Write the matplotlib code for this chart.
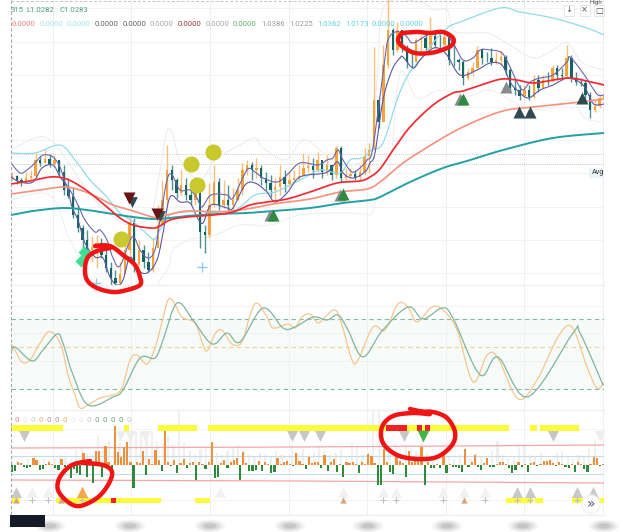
import numpy as np
import matplotlib
matplotlib.use("Agg")
import matplotlib.pyplot as plt
from matplotlib.patches import Rectangle, Circle, Ellipse

plt.rcParams['font.family'] = ['Roboto', 'DejaVu Sans']

# ---- candles: levels on the inverted chart scale, one entry per bar ----
closes = [176,180,183,178,176,160,163,159,164,160,172,190,196,215,228,240,250,247,243,255,
          268,278,283,274,250,222,265,250,262,270,248,225,200,170,180,193,185,195,200,180,
          232,235,205,182,205,200,205,200,190,170,165,170,168,178,183,190,187,177,184,180,
          178,176,168,166,170,160,172,165,175,148,178,176,174,177,172,156,150,100,122,65,
          30,50,30,48,62,62,40,38,48,36,45,45,37,60,60,62,78,72,68,50,
          58,58,62,60,57,70,88,90,96,90,97,80,88,80,80,68,75,76,58,78,
          82,83,95,110,106,98,96]
highs = [172,175,178,172,170,153,156,150,154,155,160,165,178,188,205,225,230,236,235,238,
         250,262,270,262,245,215,218,240,245,252,238,205,180,145,165,178,170,178,185,178,
         205,225,183,165,178,180,185,188,178,163,160,162,158,165,172,175,178,165,170,172,
         170,165,153,155,158,152,160,155,165,146,146,168,168,170,165,148,143,47,98,45,
         -5,28,22,30,45,50,38,35,32,17,30,30,32,35,45,58,60,68,62,46,
         48,52,48,52,50,55,68,78,85,85,85,75,75,75,72,65,65,68,45,55,
         72,78,80,92,100,95,92]
lows = [180,184,186,182,180,178,166,163,167,165,176,195,198,218,232,250,255,262,268,258,
        272,285,287,287,262,255,272,262,268,272,272,232,225,205,190,198,195,200,205,205,
        248,253,238,207,210,208,212,210,200,195,175,180,178,185,190,197,202,195,192,188,
        182,180,175,172,178,172,178,175,180,178,182,180,178,180,180,175,173,150,128,122,
        68,55,52,52,68,68,65,55,52,50,48,50,50,65,66,70,85,80,76,68,
        64,62,65,64,65,75,92,95,100,98,100,98,92,88,85,82,80,80,78,82,
        85,86,100,118,112,108,102]
first_open = 178
bar_start, bar_step = 12.0, 4.7

# ---- overlays on the price pane: (time, level) ----
cyan_t = [11,35,60,75,90,105,120,135,150,155,160,170,185,210,235,255,275,300,320,340,350,362,372,383,397,408,420,433,447,460,500,520,553,587,604]
cyan_y = [153,153,145,160,180,195,213,223,237,239,230,215,212,211,210,195,192,180,170,173,160,158,150,143,100,75,60,43,28,22,8,12,18,28,35]
fast_t = [11,20,27,35,43,53,60,65,70,77,85,95,100,107,113,120,132,140,148,155,160,167,172,180,190,197,202,211,227,233,247,255,263,277,287,300,318,327,333,338,343,352,360,367,373,385,388,393,400,407,413,427,435,443,453,463,473,480,490,502,510,517,523,530,540,553,567,570,583,592,598,604]
fast_y = [163,173,170,163,155,157,167,182,190,203,220,232,230,240,258,266,237,250,258,250,220,180,175,190,190,198,207,195,195,198,170,172,178,182,175,163,165,160,158,150,160,172,168,160,147,57,40,33,32,37,43,35,32,32,43,60,58,50,50,53,67,82,90,82,78,75,62,57,73,87,95,95]
slow_t = [11,20,33,42,53,60,67,72,78,85,95,103,110,117,123,130,138,147,157,163,170,180,190,197,203,211,227,233,245,255,267,275,287,300,325,332,338,343,353,365,370,375,383,392,400,403,413,420,430,438,447,460,477,490,502,510,517,528,540,553,568,583,592,597,604]
slow_y = [177,182,182,168,165,177,187,207,220,243,257,258,277,285,280,257,270,273,260,233,197,202,203,217,223,205,208,208,185,183,192,202,193,177,173,167,162,173,178,172,163,153,100,70,58,57,68,60,50,48,55,75,70,63,65,82,90,98,90,85,78,85,102,105,104]
red_t = [11,30,50,63,75,90,107,120,133,150,158,170,187,213,233,250,267,287,310,337,360,370,380,393,410,433,453,463,487,502,517,533,553,570,587,604]
red_y = [184,181,177,178,183,193,207,218,225,228,227,220,217,215,212,205,202,199,192,183,181,177,169,150,127,105,93,91,83,79,80,83,80,78,81,85]
salmon_t = [11,33,63,80,97,113,130,157,167,187,213,233,253,273,310,340,367,380,403,423,453,483,507,533,553,580,604]
salmon_y = [194,191,187,190,197,205,210,218,215,211,212,211,208,204,199,192,189,182,163,150,132,118,110,107,105,102,99]
teal_t = [11,33,63,87,113,133,157,187,217,247,273,310,343,370,380,410,443,467,503,553,604]
teal_y = [215,211,208,210,214,217,219,216,214,213,211,208,203,200,197,182,168,161,150,138,133]
env_up_t = [11,38,53,70,90,110,130,150,160,167,173,180,200,215,240,255,262,285,303,320,340,370,378,385,420,433,447,453,467,487,507,533,553,567,583,604]
env_up_y = [150,137,142,165,195,215,225,215,170,131,135,160,180,160,145,138,147,160,140,150,165,150,60,5,2,10,10,30,33,33,43,58,50,43,63,70]
env_lo_t = [11,50,70,100,140,167,173,190,215,240,270,300,340,365,372,380,390,400,417,440,465,490,520,545,570,585,604]
env_lo_y = [200,195,240,290,300,270,250,240,235,225,225,215,213,214,213,187,167,73,98,90,97,90,105,110,100,118,122]

# ---- signal markers on the price pane ----
dots_t, dots_y = [191,213,197,121], [164,152,185,239]
diamonds_t, diamonds_y = [84,81], [252,261]
plus_t, plus_y = [202,96], [267,283]
up_green_t, up_green_y = [273,343,463], [215,194,99]
up_gray_t, up_gray_y = [270,340,460,506], [215,195,99,87]
up_slate_t, up_slate_y = [519,530,582], [112,112,98]
down_red_t, down_red_y = [129,157], [198,214]
down_slate_t, down_slate_y = [132,160], [202,216]

# ---- oscillator pane ----
osc_fast_t = [11,15,22,30,40,48,55,62,68,75,80,88,100,113,122,130,137,147,155,163,168,173,182,195,202,207,215,222,232,242,250,257,267,273,288,295,302,310,318,325,335,342,352,358,373,385,398,408,417,432,443,457,473,487,498,518,537,558,572,587,597,604]
osc_fast_y = [344,350,362,360,343,332,335,348,375,395,408,405,398,395,388,360,355,364,348,318,300,301,317,323,342,351,334,330,344,342,315,303,317,328,324,328,317,314,323,317,310,325,360,360,327,330,304,307,322,307,310,330,382,355,358,399,380,337,327,367,388,383]
osc_slow_t = [11,15,32,43,57,63,72,88,113,123,140,155,163,177,193,212,227,240,263,283,295,313,327,338,348,363,382,408,423,442,453,480,498,528,573,580,603]
osc_slow_y = [354,347,361,350,334,343,372,405,397,390,358,358,340,303,320,344,333,342,308,328,327,317,320,315,330,357,331,307,319,308,318,375,357,397,333,333,385]
osc_levels = [319.3, 347.3, 389.3]

# ---- delta histogram: signed height per bar ----
delta = [-7,-6,3,2,-2,-3,-2,7,5,-5,-4,1,3,1,-3,-5,6,-2,-3,-13,-4,-8,-10,12,-12,2,-18,14,14,-12,
         19,3,-10,39,13,8,18,23,3,-23,3,2,14,-10,6,1,15,5,-6,34,3,-1,5,-8,2,6,-3,2,3,-15,
         3,1,-4,3,23,-13,-12,2,5,-3,3,5,7,-15,13,2,-6,-6,-5,4,-6,3,1,-8,-7,7,1,3,4,1,
         -1,12,4,1,-4,8,2,3,3,-3,10,-6,3,6,-7,1,-12,3,2,3,1,-8,3,1,11,9,2,-20,-20,16,
         3,-7,-9,10,4,2,-12,14,3,5,5,18,-20,3,-3,-3,1,-3,10,-8,1,-2,-2,-3,-7,16,-2,3,
         10,-2,-5,2,7,-2,-2,1,3,3,1,-3,-8,-5,3,-2,1,-7,2,3,-1,1,4,4,5,2,-1,3,1,-2,
         -3,1,-7,3,1,-4,-7,1,8,7,-1,1,5]
delta_start, delta_step = 11.5, 3.13
volume = [4,5,3,6,4,3,6,5,7,10,8,6,16,19,12,10,30,14,25,16,22,12,27,33,34,27,33,24,22,30,
          20,55,22,14,10,16,18,14,12,10,14,18,20,14,10,8,12,10,8,14,10,6,20,12,16,8,14,18,
          14,10,12,16,6,22,18,10,14,55,55,20,14,22,12,18,16,14,27,12,8,10,14,8,6,10,8,6,
          12,8,6,14,24,10,6,8,18,20,10,8,12,6,6,12,14,8,6,10,8,16,24]
volume_step = 5.4

# ---- signal strips and markers on the lower pane ----
top_strip = [(10,63),(124,129),(158,197),(208,509),(530,537),(540,579)]
top_alert = [(386,407),(417,422),(425,430)]
low_strip = [(12,20),(56,111),(116,161),(195,210),(506,533),(535,543),(572,585),(597,605)]
low_alert = [(111,116)]
down_gray_t = [24,292,304,320,404,553]
down_faint_t = [120,130,145,600]
down_green_t = [423]
up_dark_t = [16,517,530,577,593]
up_faint_t = [32,48,220,343,383,396,443,464,485]
up_orange_t = [82]
small_orange_t = [16,61,343,464]
small_plus_t = [32,48,82,383,396,443,485,517,530,577]

counter_t = [17,25,33,41,49,57,65,73,81,89,97,105,113,121,129]
counter_c = ['#f08080','#e8e8e8','#cccccc','#e9b06a','#b89090','#b89090','#e9b06a','#e8e8e8','#e4e4e4','#c4c4c4','#68a878','#68a878','#68a878','#68a878','#c4c4c4']

# ---- legend readouts ----
readout_vals = ['0.0000','0.0000','0.0000','0.0000','0.0000','0.0000','0.0000','0.0000','0.0000','1.0386','1.0225','1.0362','1.0173','0.0000','0.0000']
readout_x = [12,40,67,95,123,150,178,206,233,261,289,317,345,372,400]
readout_c = ['#f77d7d','#a2e3ee','#a2e3ee','#5e6068','#5e6068','#a4a6aa','#a33a3a','#a4a6aa','#5cb46a','#9a9ca0','#9a9ca0','#62cfe2','#62cfe2','#62cfe2','#62cfe2']

grid_y = [8,42,75,107,140,173,207,240,273]
grid_x = [53,131,210,289,367,446,524,603]

# ---- annotation strokes drawn by hand ----
scribble_a = [(95,246),(110,246),(123,255),(135,265),(140,277),(140,285),(127,290),(113,292),(97,288),(87,280),(85,268),(88,257),(97,251),(110,248)]
scribble_b = [(402,33),(417,32),(430,33),(443,32),(453,38),(452,45),(442,50),(430,53),(415,53),(403,47),(398,40),(402,33)]
scribble_c = [(410,409),(430,414),(413,413),(393,416),(382,427),(383,443),(397,455),(417,459),(437,457),(452,445),(455,432),(447,418),(433,412),(420,412)]
scribble_d = [(90,461),(72,465),(60,477),(58,490),(68,502),(80,506),(97,498),(108,485),(112,472),(103,465),(83,463)]


def pane(y0, y1, top, bottom):
    ax = fig.add_axes([11/625, 1-y1/532, (604-11)/625, (y1-y0)/532])
    ax.set_xlim(11, 604)
    ax.set_ylim(bottom, top)
    ax.axis('off')
    return ax


def spans(ax, items, y, h, color, z=4):
    for a, b in items:
        ax.add_patch(Rectangle((a, y-h/2), b-a, h, color=color, lw=0, zorder=z))


def smooth(points, per=8):
    # Catmull-Rom stroke through the given vertices
    p = np.array(points, float)
    p = np.vstack([p[0], p, p[-1]])
    out = []
    for i in range(1, len(p)-2):
        for t in np.linspace(0, 1, per, endpoint=False):
            out.append(0.5*((2*p[i]) + (p[i+1]-p[i-1])*t + (2*p[i-1]-5*p[i]+4*p[i+1]-p[i+2])*t*t
                            + (3*p[i]-p[i-1]-3*p[i+1]+p[i+2])*t**3))
    out.append(p[-2])
    return np.array(out)


def curve(ax, t, y, **kw):
    s = smooth(list(zip(t, y)))
    ax.plot(s[:, 0], s[:, 1], solid_joinstyle='round', **kw)


fig = plt.figure(figsize=(6.25, 5.32), dpi=100, facecolor='white')

# ---------------- price pane ----------------
ax = pane(0, 285, 0, 285)
for y in grid_y:
    ax.axhline(y, color='#f3f3f5', lw=0.7, zorder=0)
for x in grid_x:
    ax.axvline(x, color='#f0f0f3', lw=0.7, zorder=0)
for y in (154, 164):
    ax.axhline(y, color='#b8b8b8', lw=0.6, ls=(0, (1, 1.5)), zorder=1)

curve(ax, env_up_t, env_up_y, color='#ebebed', lw=0.7, zorder=1)
curve(ax, env_lo_t, env_lo_y, color='#eeeef0', lw=0.7, zorder=1)

times = bar_start + bar_step*np.arange(len(closes))
opens = np.r_[first_open, closes[:-1]]
closes_arr = np.array(closes)
rising = closes_arr < opens
up_col, down_col = '#f7a23c', '#14645f'
ax.vlines(times[rising], np.array(highs)[rising], np.array(lows)[rising], color='#f9bd78', lw=1.0, zorder=2)
ax.vlines(times[~rising], np.array(highs)[~rising], np.array(lows)[~rising], color='#4f918c', lw=1.0, zorder=2)
ax.bar(times[rising], (opens-closes_arr)[rising], bottom=closes_arr[rising], width=2.4, color=up_col, lw=0, zorder=3)
ax.bar(times[~rising], (closes_arr-opens)[~rising], bottom=opens[~rising], width=2.4, color=down_col, lw=0, zorder=3)

curve(ax, cyan_t, cyan_y, color='#8fdcea', lw=0.9, zorder=4)
curve(ax, fast_t, fast_y, color='#6a67ae', lw=0.8, zorder=4)
curve(ax, slow_t, slow_y, color='#5a58a6', lw=0.8, zorder=4)
curve(ax, teal_t, teal_y, color='#22a0a5', lw=1.4, zorder=5)
curve(ax, salmon_t, salmon_y, color='#fb9079', lw=1.2, zorder=5)
curve(ax, red_t, red_y, color='#f22b33', lw=1.25, zorder=6)

ax.scatter(dots_t, dots_y, s=135, color='#c9c92e', lw=0, zorder=7)
ax.scatter(diamonds_t, diamonds_y, s=38, marker='D', color='#3fdf92', lw=0, zorder=7)
ax.scatter(plus_t, plus_y, s=60, marker='+', color='#8fc8ee', lw=0.9, zorder=7)
ax.scatter(up_gray_t, up_gray_y, s=75, marker='^', color='#8a8a8e', lw=0, zorder=7)
ax.scatter(up_green_t, up_green_y, s=75, marker='^', color='#2e8b3e', lw=0, zorder=8)
ax.scatter(up_slate_t, up_slate_y, s=75, marker='^', color='#2f4a50', lw=0, zorder=8)
ax.scatter(down_slate_t, down_slate_y, s=60, marker='v', color='#2f4a50', lw=0, zorder=7)
ax.scatter(down_red_t, down_red_y, s=75, marker='v', color='#6b1414', lw=0, zorder=8)

# ---------------- oscillator pane ----------------
ax2 = pane(285, 410, 285, 410)
ax2.axhspan(osc_levels[0], osc_levels[2], color='#f6fbf9', lw=0, zorder=0)
for y in (306, 333, 361):
    ax2.axhline(y, color='#f0f0f3', lw=0.6, zorder=1)
for x in grid_x:
    ax2.axvline(x, color='#f0f0f3', lw=0.7, zorder=1)
ax2.axhline(osc_levels[0], color='#7dbda5', lw=0.8, ls=(0, (4, 3)), zorder=2)
ax2.axhline(osc_levels[1], color='#f6cf93', lw=0.8, ls=(0, (4, 3)), zorder=2)
ax2.axhline(osc_levels[2], color='#7dbda5', lw=0.8, ls=(0, (4, 3)), zorder=2)
curve(ax2, osc_fast_t, osc_fast_y, color='#f8c68a', lw=0.9, zorder=3)
curve(ax2, osc_slow_t, osc_slow_y, color='#7fb69d', lw=0.9, zorder=4)

# ---------------- delta pane ----------------
ax3 = pane(410, 515, 410, 515)
for x in grid_x:
    ax3.axvline(x, color='#f0f0f3', lw=0.7, zorder=0)
for y in (429, 500):
    ax3.axhline(y, color='#f2f2f5', lw=0.6, zorder=0)
base = 465
vol_t = delta_start + volume_step*np.arange(len(volume))
ax3.bar(vol_t, -np.array(volume), bottom=base, width=2.2, color='#f0f0f2', lw=0, zorder=1)
ax3.plot([11, 300, 604], [448, 447, 445], color='#f6a6a6', lw=0.9, zorder=2)
ax3.plot([11, 300, 604], [480, 481, 483], color='#f6a6a6', lw=0.9, zorder=2)
ax3.axhline(456, color='#c4dcec', lw=0.8, zorder=2)
ax3.axhline(473.5, color='#c4dcec', lw=0.8, zorder=2)
delta_arr = np.array(delta)
delta_t = delta_start + delta_step*np.arange(len(delta))
ax3.bar(delta_t[delta_arr > 0], -delta_arr[delta_arr > 0], bottom=base, width=2.2, color='#ef8f3a', lw=0, zorder=3)
ax3.bar(delta_t[delta_arr < 0], -delta_arr[delta_arr < 0], bottom=base, width=2.2, color='#2f8a3b', lw=0, zorder=3)

spans(ax3, top_strip, 428, 5.5, '#fcfc3a')
spans(ax3, top_alert, 428, 5.5, '#f51f1f', z=5)
spans(ax3, low_strip, 500, 5, '#fcfc3a')
spans(ax3, low_alert, 500, 5, '#f51f1f', z=5)

y_row = 436
ax3.scatter(down_gray_t, [y_row]*len(down_gray_t), s=62, marker='v', color='#c6c6c8', lw=0, zorder=6)
ax3.scatter(down_faint_t, [y_row]*len(down_faint_t), s=62, marker='v', color='#eeeeee', lw=0, zorder=5)
ax3.scatter(down_green_t, [y_row]*len(down_green_t), s=72, marker='v', color='#3fb54c', lw=0, zorder=6)
ax3.scatter(up_faint_t, [492]*len(up_faint_t), s=62, marker='^', color='#f1f2f1', lw=0, zorder=5)
ax3.scatter(up_dark_t, [492]*len(up_dark_t), s=62, marker='^', color='#c8c8ca', lw=0, zorder=6)
ax3.scatter(up_orange_t, [492]*len(up_orange_t), s=70, marker='^', color='#f5a94a', lw=0, zorder=6)
ax3.scatter(small_orange_t, [499.5]*len(small_orange_t), s=18, marker='^', color='#ee9c62', edgecolor='#c8c8c8', lw=0.4, zorder=6)
ax3.scatter(small_plus_t, [500]*len(small_plus_t), s=16, marker='+', color='#c0c0c0', lw=0.8, zorder=6)

# ---------------- page furniture in figure pixels ----------------
top = fig.add_axes([0, 0, 1, 1], facecolor='none')
top.set_xlim(0, 625)
top.set_ylim(532, 0)
top.axis('off')

top.plot([11, 11], [0, 515], color='#a8a8a8', lw=0.8, ls=(0, (3, 2)))
top.plot([11, 604], [1, 1], color='#c4c4c4', lw=0.7, ls=(0, (3, 2)))
for y in (285, 410, 515):
    top.plot([11, 604], [y, y], color='#eeeef4', lw=1.0)

top.text(11, 10.5, '315', color='#4d9c86', fontsize=5.6, va='center')
top.text(26, 10.5, 'L1.0282', color='#4d9c86', fontsize=5.6, va='center')
top.text(59, 10.5, 'C1.0283', color='#4d9c86', fontsize=5.6, va='center')
for x, s, c in zip(readout_x, readout_vals, readout_c):
    top.text(x, 24.5, s, color=c, fontsize=5.6, va='center')
for x, c in zip(counter_t, counter_c):
    top.text(x, 420.5, '0', color=c, fontsize=5.8, va='center', ha='center')

# chart toolbar and price tag
for x, s in zip((564, 579.5, 594), ('↓', '×', '□')):
    top.add_patch(Rectangle((x, 5), 10, 10.5, fc='white', ec='#e2e2e2', lw=0.6))
    top.text(x+5, 10, s, color='#555555', fontsize=6, ha='center', va='center', family=['DejaVu Sans'])
top.text(590, 0.3, 'High', color='#555555', fontsize=4.4, va='top')
top.add_patch(Rectangle((589, 168), 15, 10, fc='#e9f3f9', ec='none'))
top.text(592, 173, 'Avg', color='#333333', fontsize=5.2, va='center')

# blurred time labels along the bottom
for x in (50, 130, 210, 290, 368, 447, 523, 604):
    for w, a in ((30, 0.08), (24, 0.10), (18, 0.13), (12, 0.18)):
        top.add_patch(Ellipse((x, 526), w, w*0.42, fc='#777777', alpha=a, ec='none', zorder=2))
top.add_patch(Rectangle((10, 515), 35, 12, fc='#141a28', ec='none', zorder=3))

# scroll-to-latest button
top.add_patch(Circle((591, 504), 10, fc='#eeeeee', ec='none', alpha=0.7, zorder=4))
top.add_patch(Circle((591, 504), 8.5, fc='white', ec='none', zorder=5))
top.text(591, 503.5, '»', color='#555577', fontsize=10, ha='center', va='center', zorder=6, family=['DejaVu Sans'])

for stroke in (scribble_a, scribble_b, scribble_c, scribble_d):
    s = smooth(stroke)
    top.plot(s[:, 0], s[:, 1], color='#f01414', lw=3.2, solid_capstyle='round', solid_joinstyle='round', zorder=10)

fig.savefig('out.png', dpi=100, facecolor='white')
